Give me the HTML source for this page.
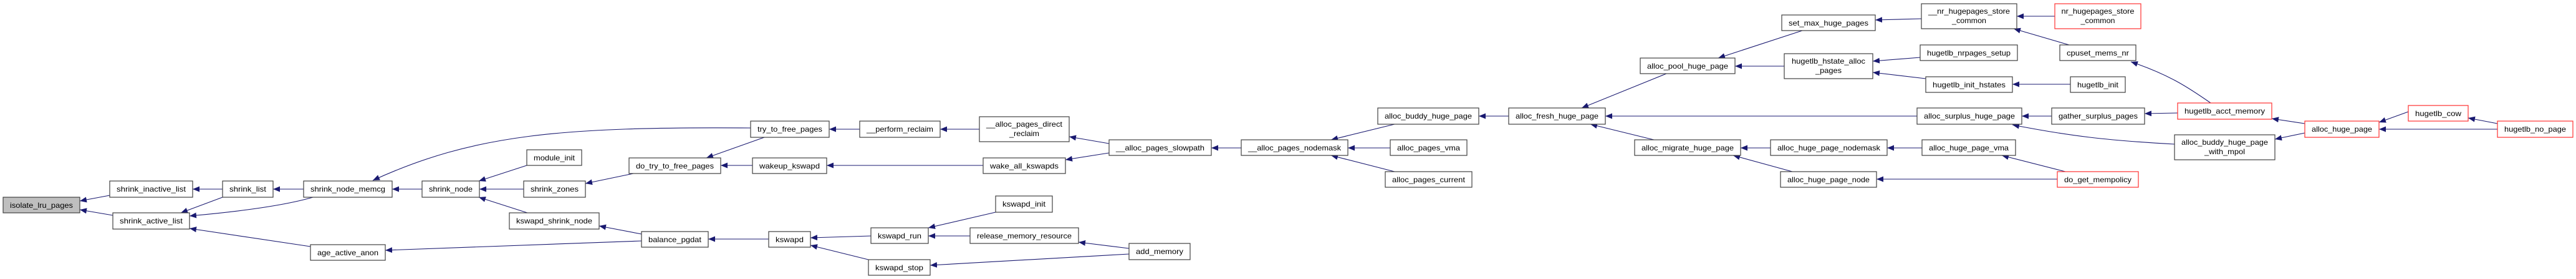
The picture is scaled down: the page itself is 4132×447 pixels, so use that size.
<!DOCTYPE html>
<html><head><meta charset="utf-8"><style>
html,body{margin:0;padding:0;background:#fff;}
svg{display:block;}
text{font-family:"Liberation Sans",sans-serif;font-size:12px;fill:#000;}
.n{fill:#fff;stroke:#404040;stroke-width:1.2;}
.g{fill:#bfbfbf;stroke:#404040;stroke-width:1.2;}
.r{fill:#fff;stroke:#ff3030;stroke-width:1.2;}
.e{stroke:#191970;stroke-width:1.1;fill:none;marker-end:url(#ah);}
</style></head><body>
<svg width="4132" height="447" viewBox="0 0 4132 447" xmlns="http://www.w3.org/2000/svg">
<defs><marker id="ah" markerUnits="userSpaceOnUse" markerWidth="12" markerHeight="9" refX="11" refY="4.5" orient="auto"><path d="M0,0 L11,4.5 L0,9 z" fill="#191970"/></marker></defs>
<g>
<line class="e" x1="176" y1="313" x2="128" y2="322"/>
<line class="e" x1="181" y1="345" x2="128" y2="336"/>
<line class="e" x1="357" y1="303" x2="309" y2="303"/>
<line class="e" x1="357" y1="316" x2="290" y2="341"/>
<path class="e" d="M502,316 Q440,334 304,346"/>
<line class="e" x1="498" y1="395" x2="304" y2="366"/>
<line class="e" x1="487" y1="303" x2="438" y2="303"/>
<line class="e" x1="677" y1="303" x2="629" y2="303"/>
<path class="e" d="M1204,205 C900,203 760,215 598,289"/>
<line class="e" x1="845" y1="265" x2="768" y2="290"/>
<line class="e" x1="840" y1="303" x2="769" y2="303"/>
<line class="e" x1="846" y1="341" x2="768" y2="316"/>
<line class="e" x1="1016" y1="278" x2="939" y2="294"/>
<line class="e" x1="1029" y1="375" x2="961" y2="362"/>
<line class="e" x1="1029" y1="386" x2="618" y2="401"/>
<line class="e" x1="1226" y1="220" x2="1133" y2="253"/>
<line class="e" x1="1207" y1="265" x2="1156" y2="265"/>
<line class="e" x1="1379" y1="207" x2="1330" y2="207"/>
<line class="e" x1="1577" y1="265" x2="1326" y2="265"/>
<line class="e" x1="1233" y1="383" x2="1136" y2="383"/>
<line class="e" x1="1397" y1="378" x2="1300" y2="381"/>
<line class="e" x1="1393" y1="416" x2="1300" y2="393"/>
<line class="e" x1="1571" y1="207" x2="1508" y2="207"/>
<line class="e" x1="1779" y1="230" x2="1715" y2="219"/>
<line class="e" x1="1779" y1="245" x2="1709" y2="256"/>
<line class="e" x1="1991" y1="237" x2="1943" y2="237"/>
<line class="e" x1="1597" y1="340" x2="1489" y2="365"/>
<line class="e" x1="1556" y1="378" x2="1489" y2="378"/>
<line class="e" x1="1811" y1="398" x2="1730" y2="388"/>
<line class="e" x1="1811" y1="407" x2="1492" y2="425"/>
<line class="e" x1="2237" y1="199" x2="2135" y2="224"/>
<line class="e" x1="2230" y1="237" x2="2162" y2="237"/>
<line class="e" x1="2237" y1="275" x2="2135" y2="249"/>
<line class="e" x1="2420" y1="186" x2="2372" y2="186"/>
<line class="e" x1="2673" y1="118" x2="2537" y2="173"/>
<line class="e" x1="3075" y1="186" x2="2575" y2="186"/>
<line class="e" x1="2653" y1="224" x2="2551" y2="199"/>
<line class="e" x1="2891" y1="49" x2="2756" y2="93"/>
<line class="e" x1="2862" y1="106" x2="2783" y2="106"/>
<line class="e" x1="3082" y1="30" x2="3008" y2="32"/>
<line class="e" x1="3296" y1="26" x2="3235" y2="26"/>
<line class="e" x1="3319" y1="72" x2="3230" y2="46"/>
<line class="e" x1="3080" y1="92" x2="3004" y2="98"/>
<line class="e" x1="3089" y1="126" x2="3004" y2="116"/>
<line class="e" x1="3321" y1="135" x2="3228" y2="135"/>
<path class="e" d="M3546,165 C3510,140 3480,120 3418,99"/>
<line class="e" x1="3291" y1="186" x2="3243" y2="186"/>
<path class="e" d="M3488,231 C3380,225 3320,218 3228,200"/>
<line class="e" x1="3493" y1="181" x2="3440" y2="182"/>
<line class="e" x1="2840" y1="237" x2="2792" y2="237"/>
<line class="e" x1="2875" y1="275" x2="2780" y2="249"/>
<line class="e" x1="3083" y1="237" x2="3027" y2="237"/>
<line class="e" x1="3313" y1="275" x2="3211" y2="249"/>
<line class="e" x1="3300" y1="287" x2="3010" y2="287"/>
<line class="e" x1="3697" y1="198" x2="3644" y2="190"/>
<line class="e" x1="3697" y1="213" x2="3649" y2="223"/>
<line class="e" x1="3863" y1="179" x2="3816" y2="196"/>
<line class="e" x1="4006" y1="207" x2="3816" y2="207"/>
<line class="e" x1="4006" y1="198" x2="3959" y2="189"/>
</g>
<g text-anchor="middle">
<rect class="g" x="5" y="316" width="123" height="25"/><text x="66.5" y="333" textLength="101" lengthAdjust="spacingAndGlyphs">isolate_lru_pages</text>
<rect class="n" x="176" y="290" width="133" height="26"/><text x="242.5" y="307" textLength="111" lengthAdjust="spacingAndGlyphs">shrink_inactive_list</text>
<rect class="n" x="181" y="341" width="123" height="26"/><text x="242.5" y="358" textLength="101" lengthAdjust="spacingAndGlyphs">shrink_active_list</text>
<rect class="n" x="357" y="290" width="81" height="26"/><text x="397.5" y="307" textLength="59" lengthAdjust="spacingAndGlyphs">shrink_list</text>
<rect class="n" x="487" y="290" width="142" height="26"/><text x="558" y="307" textLength="120" lengthAdjust="spacingAndGlyphs">shrink_node_memcg</text>
<rect class="n" x="498" y="392" width="120" height="25"/><text x="558" y="409" textLength="98" lengthAdjust="spacingAndGlyphs">age_active_anon</text>
<rect class="n" x="677" y="290" width="92" height="26"/><text x="723" y="307" textLength="70" lengthAdjust="spacingAndGlyphs">shrink_node</text>
<rect class="n" x="845" y="240" width="88" height="25"/><text x="889" y="257" textLength="66" lengthAdjust="spacingAndGlyphs">module_init</text>
<rect class="n" x="840" y="290" width="99" height="26"/><text x="889.5" y="307" textLength="77" lengthAdjust="spacingAndGlyphs">shrink_zones</text>
<rect class="n" x="817" y="341" width="144" height="26"/><text x="889" y="358" textLength="122" lengthAdjust="spacingAndGlyphs">kswapd_shrink_node</text>
<rect class="n" x="1204" y="194" width="126" height="26"/><text x="1267" y="211" textLength="104" lengthAdjust="spacingAndGlyphs">try_to_free_pages</text>
<rect class="n" x="1009" y="253" width="147" height="25"/><text x="1082.5" y="270" textLength="125" lengthAdjust="spacingAndGlyphs">do_try_to_free_pages</text>
<rect class="n" x="1207" y="253" width="119" height="25"/><text x="1266.5" y="270" textLength="97" lengthAdjust="spacingAndGlyphs">wakeup_kswapd</text>
<rect class="n" x="1029" y="371" width="107" height="25"/><text x="1082.5" y="388" textLength="85" lengthAdjust="spacingAndGlyphs">balance_pgdat</text>
<rect class="n" x="1233" y="371" width="67" height="25"/><text x="1266.5" y="388" textLength="45" lengthAdjust="spacingAndGlyphs">kswapd</text>
<rect class="n" x="1379" y="194" width="129" height="26"/><text x="1443.5" y="211" textLength="107" lengthAdjust="spacingAndGlyphs">__perform_reclaim</text>
<rect class="n" x="1571" y="187" width="144" height="40"/><text x="1643" y="203" textLength="122" lengthAdjust="spacingAndGlyphs">__alloc_pages_direct</text><text x="1643" y="218" textLength="48" lengthAdjust="spacingAndGlyphs">_reclaim</text>
<rect class="n" x="1577" y="253" width="132" height="25"/><text x="1643" y="270" textLength="110" lengthAdjust="spacingAndGlyphs">wake_all_kswapds</text>
<rect class="n" x="1779" y="224" width="164" height="25"/><text x="1861" y="241" textLength="142" lengthAdjust="spacingAndGlyphs">__alloc_pages_slowpath</text>
<rect class="n" x="1397" y="365" width="92" height="25"/><text x="1443" y="382" textLength="70" lengthAdjust="spacingAndGlyphs">kswapd_run</text>
<rect class="n" x="1597" y="314" width="91" height="26"/><text x="1642.5" y="331" textLength="69" lengthAdjust="spacingAndGlyphs">kswapd_init</text>
<rect class="n" x="1556" y="365" width="174" height="25"/><text x="1643" y="382" textLength="152" lengthAdjust="spacingAndGlyphs">release_memory_resource</text>
<rect class="n" x="1811" y="390" width="98" height="26"/><text x="1860" y="407" textLength="76" lengthAdjust="spacingAndGlyphs">add_memory</text>
<rect class="n" x="1393" y="416" width="99" height="25"/><text x="1442.5" y="433" textLength="77" lengthAdjust="spacingAndGlyphs">kswapd_stop</text>
<rect class="n" x="1991" y="224" width="171" height="25"/><text x="2076.5" y="241" textLength="149" lengthAdjust="spacingAndGlyphs">__alloc_pages_nodemask</text>
<rect class="n" x="2210" y="173" width="162" height="26"/><text x="2291" y="190" textLength="140" lengthAdjust="spacingAndGlyphs">alloc_buddy_huge_page</text>
<rect class="n" x="2230" y="224" width="123" height="25"/><text x="2291.5" y="241" textLength="101" lengthAdjust="spacingAndGlyphs">alloc_pages_vma</text>
<rect class="n" x="2222" y="275" width="139" height="25"/><text x="2291.5" y="292" textLength="117" lengthAdjust="spacingAndGlyphs">alloc_pages_current</text>
<rect class="n" x="2420" y="173" width="155" height="26"/><text x="2497.5" y="190" textLength="133" lengthAdjust="spacingAndGlyphs">alloc_fresh_huge_page</text>
<rect class="n" x="2631" y="93" width="152" height="25"/><text x="2707" y="110" textLength="130" lengthAdjust="spacingAndGlyphs">alloc_pool_huge_page</text>
<rect class="n" x="2622" y="224" width="170" height="25"/><text x="2707" y="241" textLength="148" lengthAdjust="spacingAndGlyphs">alloc_migrate_huge_page</text>
<rect class="n" x="2858" y="24" width="150" height="25"/><text x="2933" y="41" textLength="128" lengthAdjust="spacingAndGlyphs">set_max_huge_pages</text>
<rect class="n" x="3082" y="6" width="153" height="40"/><text x="3158.5" y="22" textLength="131" lengthAdjust="spacingAndGlyphs">__nr_hugepages_store</text><text x="3158.5" y="37" textLength="55" lengthAdjust="spacingAndGlyphs">_common</text>
<rect class="r" x="3296" y="6" width="138" height="40"/><text x="3365" y="22" textLength="117" lengthAdjust="spacingAndGlyphs">nr_hugepages_store</text><text x="3365" y="37" textLength="55" lengthAdjust="spacingAndGlyphs">_common</text>
<rect class="n" x="2862" y="86" width="142" height="40"/><text x="2933" y="102" textLength="118" lengthAdjust="spacingAndGlyphs">hugetlb_hstate_alloc</text><text x="2933" y="117" textLength="42" lengthAdjust="spacingAndGlyphs">_pages</text>
<rect class="n" x="3080" y="72" width="156" height="25"/><text x="3158" y="89" textLength="134" lengthAdjust="spacingAndGlyphs">hugetlb_nrpages_setup</text>
<rect class="n" x="3304" y="72" width="122" height="25"/><text x="3365" y="89" textLength="100" lengthAdjust="spacingAndGlyphs">cpuset_mems_nr</text>
<rect class="n" x="3089" y="123" width="139" height="25"/><text x="3158.5" y="140" textLength="117" lengthAdjust="spacingAndGlyphs">hugetlb_init_hstates</text>
<rect class="n" x="3321" y="123" width="88" height="25"/><text x="3365" y="140" textLength="66" lengthAdjust="spacingAndGlyphs">hugetlb_init</text>
<rect class="n" x="3075" y="173" width="168" height="26"/><text x="3159" y="190" textLength="146" lengthAdjust="spacingAndGlyphs">alloc_surplus_huge_page</text>
<rect class="n" x="3291" y="173" width="149" height="26"/><text x="3365.5" y="190" textLength="127" lengthAdjust="spacingAndGlyphs">gather_surplus_pages</text>
<rect class="n" x="2840" y="224" width="187" height="25"/><text x="2933.5" y="241" textLength="165" lengthAdjust="spacingAndGlyphs">alloc_huge_page_nodemask</text>
<rect class="n" x="3083" y="224" width="150" height="25"/><text x="3158" y="241" textLength="128" lengthAdjust="spacingAndGlyphs">alloc_huge_page_vma</text>
<rect class="n" x="2856" y="275" width="154" height="25"/><text x="2933" y="292" textLength="132" lengthAdjust="spacingAndGlyphs">alloc_huge_page_node</text>
<rect class="r" x="3300" y="275" width="130" height="25"/><text x="3365" y="292" textLength="108" lengthAdjust="spacingAndGlyphs">do_get_mempolicy</text>
<rect class="r" x="3493" y="165" width="151" height="26"/><text x="3568.5" y="182" textLength="129" lengthAdjust="spacingAndGlyphs">hugetlb_acct_memory</text>
<rect class="n" x="3488" y="216" width="161" height="40"/><text x="3568.5" y="232" textLength="139" lengthAdjust="spacingAndGlyphs">alloc_buddy_huge_page</text><text x="3568.5" y="247" textLength="65" lengthAdjust="spacingAndGlyphs">_with_mpol</text>
<rect class="r" x="3697" y="194" width="119" height="26"/><text x="3756.5" y="211" textLength="97" lengthAdjust="spacingAndGlyphs">alloc_huge_page</text>
<rect class="r" x="3863" y="169" width="96" height="25"/><text x="3911" y="186" textLength="74" lengthAdjust="spacingAndGlyphs">hugetlb_cow</text>
<rect class="r" x="4006" y="194" width="121" height="26"/><text x="4066.5" y="211" textLength="99" lengthAdjust="spacingAndGlyphs">hugetlb_no_page</text>
</g>
</svg>
</body></html>
